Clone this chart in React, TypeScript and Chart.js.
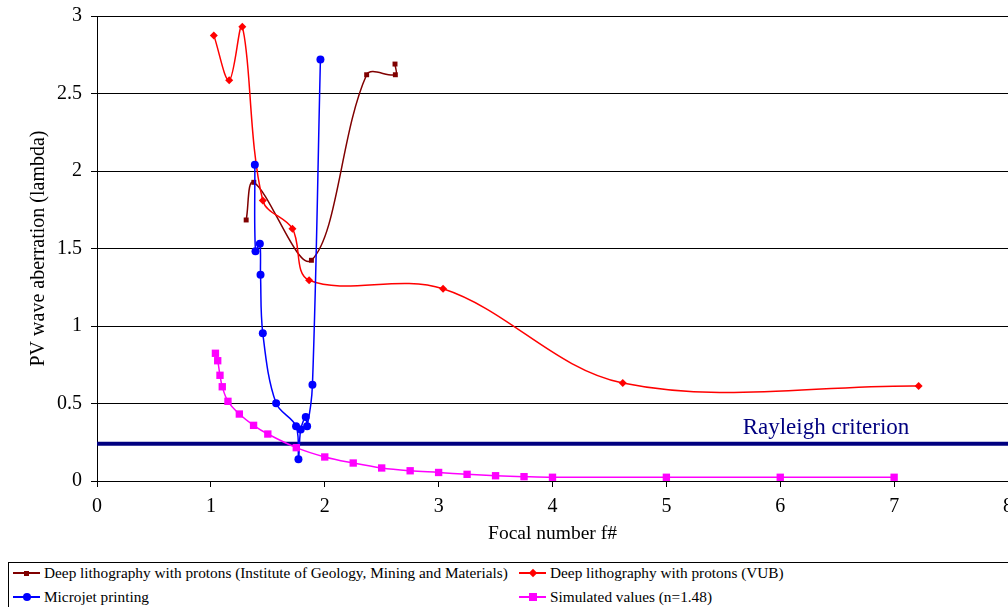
import React, { useEffect, useRef } from "react";
import { Chart, registerables } from "chart.js";

Chart.register(...registerables);

const FONT = "'Liberation Serif', 'Times New Roman', serif";

// ---- axis ranges / labels ----
const X_MIN = 0;
const X_MAX = 8;
const X_STEP = 1;
const Y_MIN = 0;
const Y_MAX = 3;
const Y_STEP = 0.5;
const X_TITLE = "Focal number f#";
const Y_TITLE = "PV wave aberration (lambda)";

// ---- series: Deep lithography with protons (Institute of Geology, Mining and Materials) ----
const IGMM_LABEL = "Deep lithography with protons (Institute of Geology, Mining and Materials)";
const IGMM_X = [1.31, 1.377, 1.883, 2.368, 2.62, 2.617];
const IGMM_Y = [1.684, 1.927, 1.424, 2.621, 2.621, 2.69];

// ---- series: Deep lithography with protons (VUB) ----
const VUB_LABEL = "Deep lithography with protons (VUB)";
const VUB_X = [1.026, 1.161, 1.276, 1.456, 1.716, 1.863, 3.039, 4.617, 7.215];
const VUB_Y = [2.875, 2.585, 2.93, 1.81, 1.628, 1.295, 1.24, 0.632, 0.613];

// ---- series: Microjet printing ----
const MJ_LABEL = "Microjet printing";
const MJ_X = [1.386, 1.392, 1.43, 1.436, 1.456, 1.573, 1.748, 1.769, 1.789, 1.833, 1.845, 1.892, 1.962];
const MJ_Y = [2.041, 1.482, 1.531, 1.331, 0.953, 0.501, 0.353, 0.14, 0.333, 0.413, 0.353, 0.621, 2.72];

// ---- series: Simulated values (n=1.48) ----
const SIM_LABEL = "Simulated values (n=1.48)";
const SIM_X = [1.04, 1.06, 1.08, 1.1, 1.15, 1.25, 1.375, 1.5, 1.75, 2, 2.25, 2.5, 2.75, 3, 3.25, 3.5, 3.75, 4, 5, 6, 7];
const SIM_Y = [0.824, 0.776, 0.682, 0.608, 0.514, 0.432, 0.359, 0.303, 0.215, 0.155, 0.116, 0.084, 0.066, 0.055, 0.043, 0.034, 0.028, 0.024, 0.024, 0.024, 0.024];

// ---- Rayleigh criterion ----
const RAYLEIGH_LABEL = "Rayleigh criterion";
const RAYLEIGH_VALUE = 0.24;
const RAYLEIGH_X = [0, 8];
const RAYLEIGH_LABEL_AT_X = 5.67;
const RAYLEIGH_LABEL_AT_Y = 0.306;

const MAROON = "#800000";
const RED = "#FF0000";
const BLUE = "#0000FF";
const MAGENTA = "#FF00FF";
const NAVY = "#000080";

const pts = (xs: number[], ys: number[]) => xs.map((x, i) => ({ x, y: ys[i] }));

const rayleighLabelPlugin = {
  id: "rayleighLabel",
  afterDatasetsDraw(chart: any) {
    const { ctx, scales } = chart;
    ctx.save();
    ctx.font = `23px ${FONT}`;
    ctx.fillStyle = NAVY;
    ctx.textAlign = "left";
    ctx.textBaseline = "alphabetic";
    ctx.fillText(
      RAYLEIGH_LABEL,
      scales.x.getPixelForValue(RAYLEIGH_LABEL_AT_X),
      scales.y.getPixelForValue(RAYLEIGH_LABEL_AT_Y)
    );
    ctx.restore();
  },
};

const LEGEND = [
  { label: IGMM_LABEL, color: MAROON, shape: "square-small", left: 13, top: 573 },
  { label: VUB_LABEL, color: RED, shape: "diamond", left: 519, top: 573 },
  { label: MJ_LABEL, color: BLUE, shape: "circle", left: 13, top: 597 },
  { label: SIM_LABEL, color: MAGENTA, shape: "square", left: 519, top: 597 },
];

function Marker({ shape, color }: { shape: string; color: string }) {
  const base: React.CSSProperties = { position: "absolute", background: color };
  if (shape === "square-small") {
    return <div style={{ ...base, width: 5, height: 5, left: 11, top: -2.5 }} />;
  }
  if (shape === "square") {
    return <div style={{ ...base, width: 8, height: 8, left: 9.5, top: -4 }} />;
  }
  if (shape === "circle") {
    return <div style={{ ...base, width: 8, height: 8, left: 9.5, top: -4, borderRadius: "50%" }} />;
  }
  return <div style={{ ...base, width: 6, height: 6, left: 10.5, top: -3, transform: "rotate(45deg)" }} />;
}

export default function App() {
  const ref = useRef<HTMLCanvasElement | null>(null);

  useEffect(() => {
    if (!ref.current) return;
    const line = (label: string, data: any[], color: string, pointStyle: string, radius: number, order: number) => ({
      label,
      data,
      borderColor: color,
      backgroundColor: color,
      borderWidth: 1.5,
      pointStyle,
      pointRadius: radius,
      pointBorderWidth: 0,
      pointBackgroundColor: color,
      tension: 0.35,
      order,
    });
    const chart = new Chart(ref.current, {
      type: "line",
      data: {
        datasets: [
          line(IGMM_LABEL, pts(IGMM_X, IGMM_Y), MAROON, "rect", 3.5, 4),
          line(VUB_LABEL, pts(VUB_X, VUB_Y), RED, "rectRot", 4, 3),
          line(MJ_LABEL, pts(MJ_X, MJ_Y), BLUE, "circle", 4, 2),
          line(SIM_LABEL, pts(SIM_X, SIM_Y), MAGENTA, "rect", 5.2, 1),
          {
            label: RAYLEIGH_LABEL,
            data: RAYLEIGH_X.map((x) => ({ x, y: RAYLEIGH_VALUE })),
            borderColor: NAVY,
            borderWidth: 4,
            pointRadius: 0,
            tension: 0,
            order: 5,
          } as any,
        ],
      },
      options: {
        animation: false,
        responsive: false,
        devicePixelRatio: 1,
        layout: { autoPadding: false, padding: { top: 16, left: 0, right: 0, bottom: 0 } },
        plugins: { legend: { display: false }, tooltip: { enabled: false } },
        scales: {
          x: {
            type: "linear",
            min: X_MIN,
            max: X_MAX,
            ticks: {
              stepSize: X_STEP,
              color: "#000",
              font: { family: FONT, size: 20 },
              padding: 8,
              maxRotation: 0,
              callback: (v: any) => `${Number(v)}`,
            },
            grid: { drawOnChartArea: false, drawTicks: true, tickLength: 6, color: "#000" },
            border: { color: "#000", width: 1 },
            title: {
              display: true,
              text: X_TITLE,
              color: "#000",
              font: { family: FONT, size: 19.5 },
              padding: { top: 0, bottom: 14 },
            },
            afterFit: (s: any) => {
              s.height = 79;
              s.paddingRight = 0;
              s.paddingLeft = 0;
            },
          },
          y: {
            type: "linear",
            min: Y_MIN,
            max: Y_MAX,
            ticks: {
              stepSize: Y_STEP,
              color: "#000",
              font: { family: FONT, size: 20 },
              padding: 9,
              callback: (v: any) => `${Number(v)}`,
            },
            grid: { color: "#000", lineWidth: 1, drawTicks: true, tickLength: 6 },
            border: { color: "#000", width: 1 },
            title: {
              display: true,
              text: Y_TITLE,
              color: "#000",
              font: { family: FONT, size: 20 },
              padding: { top: 27, bottom: 0 },
            },
            afterFit: (s: any) => {
              s.width = 97;
              s.paddingTop = 0;
              s.paddingBottom = 0;
            },
          },
        },
      },
      plugins: [rayleighLabelPlugin],
    } as any);
    return () => chart.destroy();
  }, []);

  return (
    <div
      style={{
        position: "fixed",
        left: 0,
        top: 0,
        width: 1008,
        height: 607,
        background: "#fff",
        overflow: "hidden",
      }}
    >
      <canvas ref={ref} width={1008} height={560} style={{ position: "absolute", left: 0, top: 0, width: 1008, height: 560 }} />
      <div
        style={{
          position: "absolute",
          left: 8,
          top: 562,
          width: 1100,
          height: 80,
          border: "1px solid #000",
          boxSizing: "border-box",
        }}
      />
      {LEGEND.map((it) => (
        <div key={it.label} style={{ position: "absolute", left: it.left, top: it.top, height: 0 }}>
          <div style={{ position: "absolute", left: 0, top: -1, width: 27, height: 2, background: it.color }} />
          <Marker shape={it.shape} color={it.color} />
          <div
            style={{
              position: "absolute",
              left: 31,
              top: -10,
              whiteSpace: "nowrap",
              fontFamily: FONT,
              fontSize: 15.3,
              lineHeight: "20px",
              color: "#000",
            }}
          >
            {it.label}
          </div>
        </div>
      ))}
    </div>
  );
}
